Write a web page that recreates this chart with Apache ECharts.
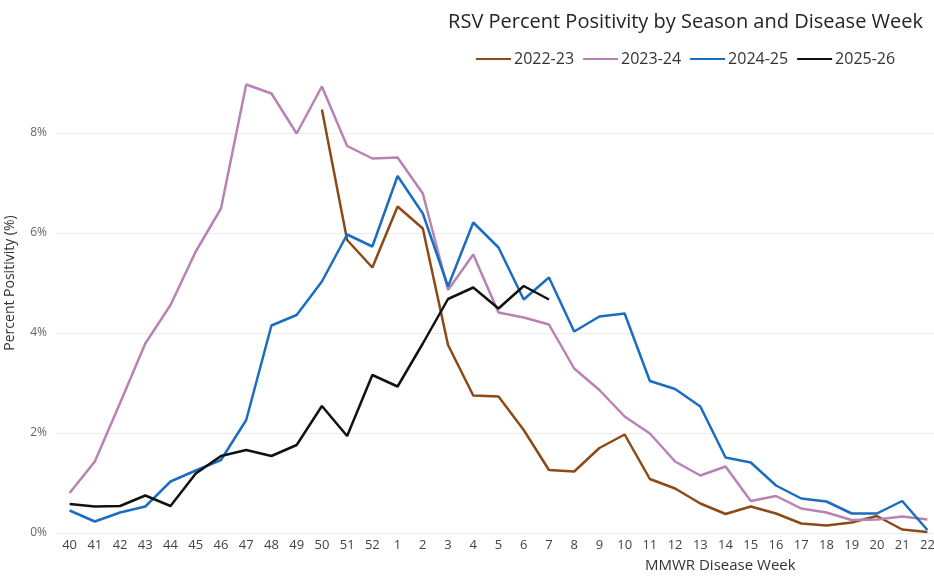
<!DOCTYPE html>
<html>
<head>
<meta charset="utf-8">
<script src="https://cdn.jsdelivr.net/npm/echarts@6/dist/echarts.min.js"></script>
<style>html,body{margin:0;padding:0;background:#fff;}#c{width:934px;height:576px;}</style>
</head>
<body>
<div id="c"></div>
<script>
const weeks = ['40','41','42','43','44','45','46','47','48','49','50','51','52','1','2','3','4','5','6','7','8','9','10','11','12','13','14','15','16','17','18','19','20','21','22'];
const s2022 = [null,null,null,null,null,null,null,null,null,null,8.47,5.86,5.31,6.53,6.09,3.76,2.75,2.73,2.06,1.26,1.23,1.70,1.97,1.08,0.89,0.59,0.38,0.53,0.39,0.19,0.15,0.21,0.34,0.07,0.02];
const s2023 = [0.80,1.43,2.60,3.79,4.56,5.63,6.49,8.97,8.79,7.99,8.93,7.74,7.49,7.51,6.79,4.86,5.57,4.41,4.31,4.17,3.29,2.86,2.33,1.99,1.43,1.15,1.33,0.64,0.74,0.49,0.41,0.26,0.27,0.33,0.27];
const s2024 = [0.45,0.23,0.41,0.53,1.03,1.25,1.46,2.26,4.15,4.36,5.03,5.97,5.73,7.14,6.39,4.93,6.21,5.71,4.67,5.11,4.03,4.33,4.39,3.04,2.88,2.53,1.51,1.41,0.95,0.69,0.63,0.39,0.39,0.64,0.06];
const s2025 = [0.58,0.53,0.54,0.75,0.54,1.19,1.54,1.66,1.54,1.76,2.54,1.94,3.16,2.93,3.79,4.68,4.91,4.49,4.94,4.67,null,null,null,null,null,null,null,null,null,null,null,null,null,null,null];
const seasonNames = ['2022-23','2023-24','2024-25','2025-26'];
const colors = ['#8c4a16','#b883b4','#1a6dc0','#111111'];
const yTicks = [0,2,4,6,8,10];

const font = 'Open Sans';
const chart = echarts.init(document.getElementById('c'));
const seriesData = [s2022, s2023, s2024, s2025];
chart.setOption({
  animation: false,
  textStyle: {fontFamily: font},
  title: [
    {text: 'RSV Percent Positivity by Season and Disease Week', right: 6, top: 7,
     textStyle: {fontFamily: font, fontSize: 20, fontWeight: 'normal', color: '#252525'}},
    {text: 'MMWR Disease Week', left: 640, top: 553,
     textStyle: {fontFamily: font, fontSize: 15, fontWeight: 'normal', color: '#333'}}
  ],
  legend: {
    left: 476, top: 51, padding: 0, itemWidth: 35, itemHeight: 10, itemGap: 9,
    icon: 'path://M0,4 L35,4 L35,6 L0,6 Z',
    textStyle: {fontFamily: font, fontSize: 16, color: '#333', padding: [0,0,0,-2]},
    data: seasonNames
  },
  grid: {left: 57, width: 883, top: 33, bottom: 43, containLabel: false, outerBoundsMode: 'none'},
  xAxis: {
    type: 'category', data: weeks, boundaryGap: true,
    axisLine: {show: false}, axisTick: {show: false},
    axisLabel: {interval: 0, margin: 6, fontSize: 13, color: '#444', fontFamily: font},
    splitLine: {show: false}
  },
  yAxis: {
    type: 'value', min: yTicks[0], max: yTicks[yTicks.length-1], interval: 2,
    name: 'Percent Positivity (%)', nameLocation: 'middle', nameGap: 40,
    nameTextStyle: {fontFamily: font, fontSize: 14, color: '#333'},
    axisLine: {show: false}, axisTick: {show: false},
    axisLabel: {margin: 10, fontSize: 12, color: '#666', fontFamily: font,
      formatter: v => v >= 10 ? '' : v + '%'},
    splitLine: {lineStyle: {color: ['#ececec','#ececec','#ececec','#ececec','#ececec','rgba(0,0,0,0)'], width: 1}}
  },
  series: seriesData.map((d, i) => ({
    name: seasonNames[i], type: 'line', data: d, symbol: 'none',
    lineStyle: {color: colors[i], width: 2.5}, itemStyle: {color: colors[i]},
    connectNulls: false
  }))
});
</script>
</body>
</html>
